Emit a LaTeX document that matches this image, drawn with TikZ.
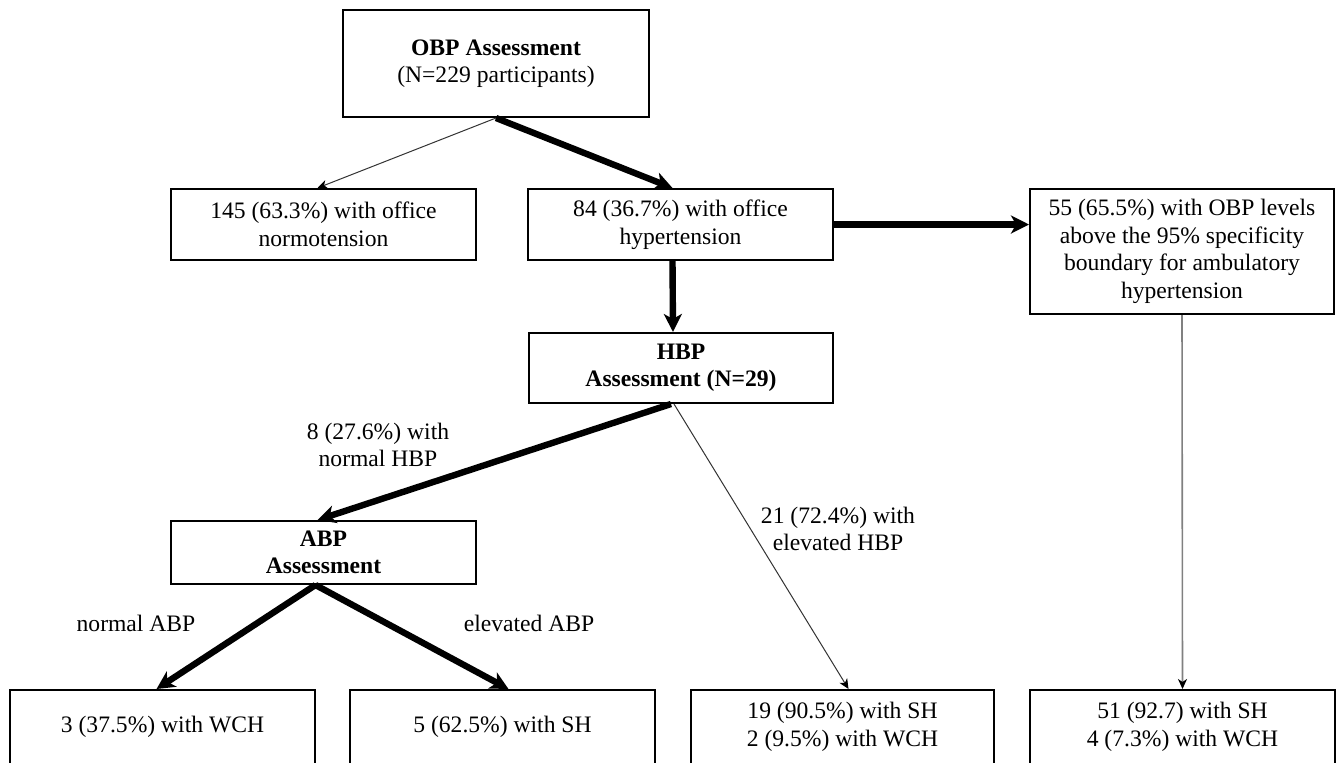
\documentclass[tikz,border=0pt]{standalone}
\usepackage{fontspec}
\setmainfont{Liberation Serif}
\usetikzlibrary{arrows.meta,calc}
\begin{document}
\begin{tikzpicture}[x=0.5pt,y=-0.5pt,
  box/.style={draw,line width=1pt,rectangle,inner sep=0pt,align=center,font=\fontsize{11.8pt}{13.75pt}\selectfont},
  lbl/.style={inner sep=0pt,align=center,font=\fontsize{11.8pt}{13.75pt}\selectfont},
  thk/.style={line width=3.2pt,-{Stealth[length=9pt,width=9pt,inset=2.5pt]}},
  thn/.style={line width=0.5pt,draw=black!80,-{Stealth[length=5pt,width=4.5pt,inset=1.5pt,color=black]}},
  gry/.style={line width=0.8pt,draw=black!50,-{Stealth[length=5pt,width=4.5pt,inset=1.5pt,color=black]}},
]
\useasboundingbox (0,0) rectangle (1344,762);
\fill[white] (0,0) rectangle (1344,762);

\node[box,minimum width=153pt,minimum height=53.5pt] (obp) at (496,63.5) {\textbf{OBP Assessment}\\(N=229 participants)};
\node[box,minimum width=152.5pt,minimum height=35.5pt] (normo) at (323.5,224.5) {145 (63.3\%) with office\\normotension};
\node[box,minimum width=152.5pt,minimum height=35.5pt] (hyp) at (680.5,224.5) {84 (36.7\%) with office\\hypertension};
\node[box,minimum width=152pt,minimum height=62.5pt] (n55) at (1182,251.5) {55 (65.5\%) with OBP levels\\above the 95\% specificity\\boundary for ambulatory\\hypertension};
\node[box,minimum width=152pt,minimum height=35pt] (hbp) at (681,368) {\textbf{HBP}\\\textbf{Assessment (N=29)}};
\node[box,minimum width=152.5pt,minimum height=31.5pt] (abp) at (323.5,552.5) {\textbf{ABP}\\\textbf{Assessment}};
\node[box,minimum width=152.5pt,minimum height=37pt] (wch) at (162.5,727) {3 (37.5\%) with WCH};
\node[box,minimum width=152.5pt,minimum height=37pt] (sh) at (502.5,727) {5 (62.5\%) with SH};
\node[box,minimum width=151.5pt,minimum height=37pt] (n19) at (842.5,727) {19 (90.5\%) with SH\\2 (9.5\%) with WCH};
\node[box,minimum width=152.5pt,minimum height=37pt] (n51) at (1182.5,727) {51 (92.7) with SH\\4 (7.3\%) with WCH};

\node[lbl] (l8) at (378,445) {8 (27.6\%) with\\normal HBP};
\node[lbl] (l21) at (838,529) {21 (72.4\%) with\\elevated HBP};
\node[lbl] (lnabp) at (136,623) {normal ABP};
\node[lbl] (leabp) at (529,623) {elevated ABP};

\draw[thn] (obp.south) -- ($(normo.north)+(-6,0)$);
\draw[thk] (obp.south) -- ($(hyp.north)+(-8,0)$);
\draw[thk] (hyp.east) -- (hyp.east -| n55.west);
\draw[thk] ($(hyp.south)+(-8,0)$) -- ($(hbp.north)+(-8,0)$);
\draw[thk] ($(hbp.south)+(-10,0)$) -- ($(abp.north)+(-6,0)$);
\draw[thn] ($(hbp.south)+(-7,0)$) -- ($(n19.north)+(6,0)$);
\draw[thk] ($(abp.south)+(-8,0)$) -- ($(wch.north)+(-6,0)$);
\draw[thk] ($(abp.south)+(-8,0)$) -- ($(sh.north)+(6,0)$);
\draw[gry] (n55.south) -- (n51.north);
\end{tikzpicture}
\end{document}
